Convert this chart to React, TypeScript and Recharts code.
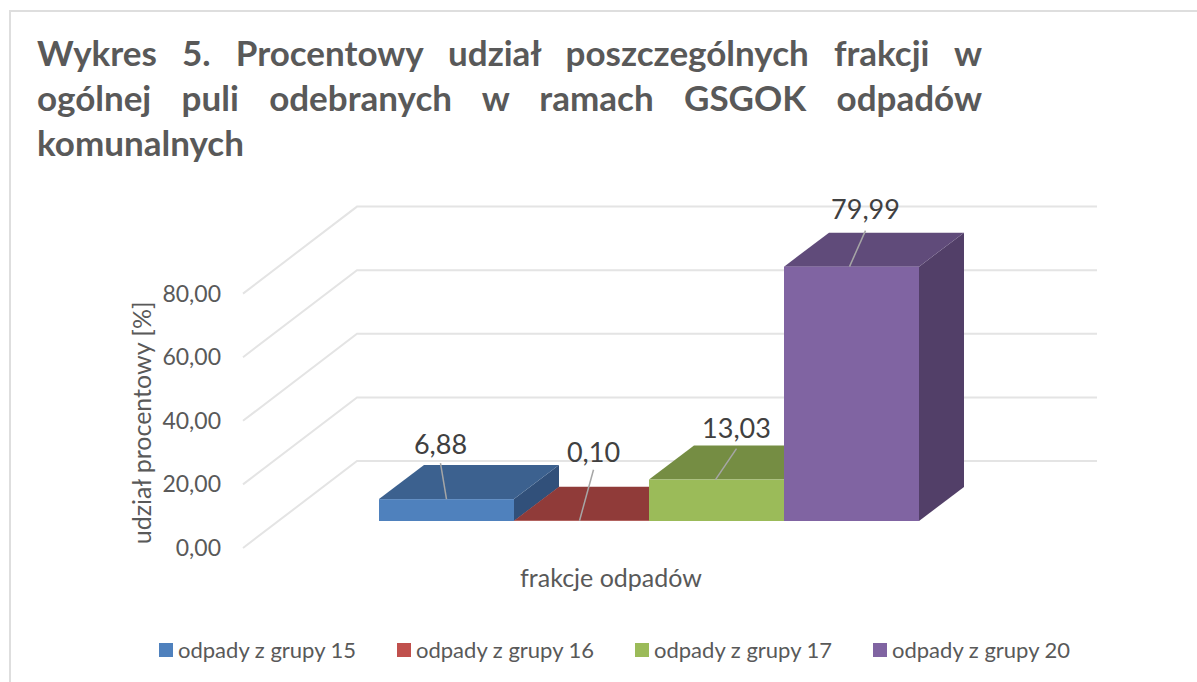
import { BarChart, Bar, XAxis, YAxis, CartesianGrid, Legend, LabelList } from 'recharts';

const categories = ['frakcje odpadów'];
const seriesNames = ['odpady z grupy 15', 'odpady z grupy 16', 'odpady z grupy 17', 'odpady z grupy 20'];
const seriesValues = [6.88, 0.1, 13.03, 79.99];
const yTicks = [0, 20, 40, 60, 80];

const chartData = categories.map((name) => {
  const row: Record<string, string | number> = { name };
  seriesNames.forEach((s, i) => {
    row[s] = seriesValues[i];
  });
  return row;
});

// front, top and side faces of each block
const faces = [
  { front: '#4F81BD', top: '#3C618F', side: '#31507A' },
  { front: '#C0504D', top: '#903B39', side: '#7A3230' },
  { front: '#9BBB59', top: '#758D43', side: '#637738' },
  { front: '#8064A2', top: '#604B7A', side: '#523F68' },
];

// leader line start, leader line end and text centre, relative to the bar's top middle
const leaders = [
  { x0: 0, x1: -6, y1: -36, tx: -6, ty: -56 },
  { x0: -2, x1: 12, y1: -51, tx: 12, ty: -69 },
  { x0: -1, x1: 20, y1: -31, tx: 20, ty: -52 },
  { x0: -2, x1: 14, y1: -36, tx: 14, ty: -58 },
];

const FONT = 'Lato, sans-serif';
const TEXT = '#595959';
const DEPTH_X = 45;
const DEPTH_Y = 34;

const fmt = (v: number) => v.toFixed(2).replace('.', ',');

const Block = (props: any) => {
  const { x, y, width, height, index } = props;
  const f = faces[index];
  const right = x + width;
  const bottom = y + height;
  return (
    <g>
      <polygon points={`${right},${y} ${right + DEPTH_X},${y - DEPTH_Y} ${right + DEPTH_X},${bottom - DEPTH_Y} ${right},${bottom}`} fill={f.side} />
      <polygon points={`${x},${y} ${x + DEPTH_X},${y - DEPTH_Y} ${right + DEPTH_X},${y - DEPTH_Y} ${right},${y}`} fill={f.top} />
      <rect x={x} y={y} width={width} height={height} fill={f.front} />
    </g>
  );
};

const makeBlock = (i: number) => (props: any) => <Block {...props} index={i} />;

const makeLabel = (i: number) => (props: any) => {
  const { x, y, width, value } = props;
  const l = leaders[i];
  const mid = x + width / 2;
  return (
    <g>
      <line x1={mid + l.x0} y1={y} x2={mid + l.x1} y2={y + l.y1} stroke="#A6A6A6" strokeWidth={1.5} />
      <text x={mid + l.tx} y={y + l.ty} textAnchor="middle" dominantBaseline="central" fontSize={27} fontFamily={FONT} fill="#404040">
        {fmt(Number(value))}
      </text>
    </g>
  );
};

// one grid line bent into the side wall and the back wall
const GridLine = (props: any) => {
  const { x1, x2, y1 } = props;
  return (
    <polyline
      key={props.key ?? y1}
      points={`${x1 - 136},${y1 + 27} ${x1 - 22},${y1 - 60} ${x2 + 180},${y1 - 60}`}
      fill="none"
      stroke="#E4E4E4"
      strokeWidth={2}
    />
  );
};

const YTick = (props: any) => {
  const { x, y, payload } = props;
  return (
    <text x={x - 158} y={y + 26} textAnchor="end" dominantBaseline="central" fontSize={23} fontFamily={FONT} fill={TEXT}>
      {fmt(payload.value)}
    </text>
  );
};

const LegendRow = (props: any) => (
  <div style={{ display: 'flex', fontFamily: FONT, fontSize: 22, color: TEXT, lineHeight: '24px' }}>
    {(props.payload ?? []).map((p: any) => (
      <div key={p.value} style={{ width: 238, display: 'flex', alignItems: 'center', whiteSpace: 'nowrap' }}>
        <span style={{ width: 14, height: 14, background: p.color, marginRight: 5, flex: 'none' }} />
        {p.value}
      </div>
    ))}
  </div>
);

export default function App() {
  return (
    <div style={{ position: 'absolute', left: 0, top: 0, width: 1197, height: 682, overflow: 'hidden', background: '#fff' }}>
      <div style={{ position: 'absolute', left: 9, top: 10, width: 1300, height: 800, borderTop: '2px solid #DEDEDE', borderLeft: '2px solid #DEDEDE' }} />
      <div
        style={{
          position: 'absolute',
          left: 37,
          top: 30,
          width: 945,
          fontFamily: FONT,
          fontWeight: 700,
          fontSize: 35,
          lineHeight: '45px',
          color: TEXT,
          textAlign: 'justify',
        }}
      >
        Wykres 5. Procentowy udział poszczególnych frakcji w ogólnej puli odebranych w ramach GSGOK odpadów komunalnych
      </div>
      <div style={{ position: 'absolute', left: 0, top: 0 }}>
        <BarChart
          width={1197}
          height={682}
          data={chartData}
          barCategoryGap={0}
          barGap={0}
          margin={{ top: 266.6, right: 280, bottom: 160, left: 378 }}
        >
          <CartesianGrid vertical={false} horizontal={(p: any) => <GridLine {...p} />} horizontalValues={yTicks} />
          <XAxis
            dataKey="name"
            height={1}
            tick={false}
            axisLine={false}
            tickLine={false}
            label={{ value: categories[0], position: 'bottom', offset: 47, dx: -37, fontSize: 25, fontFamily: FONT, fill: TEXT }}
          />
          <YAxis
            width={1}
            domain={[0, 80]}
            ticks={yTicks}
            tick={<YTick />}
            tickSize={0}
            tickMargin={0}
            axisLine={false}
            tickLine={false}
            label={{ value: 'udział procentowy [%]', angle: -90, position: 'center', dx: -236, dy: 29, fontSize: 25, fontFamily: FONT, fill: TEXT }}
          />
          <Legend
            verticalAlign="middle"
            content={<LegendRow />}
            wrapperStyle={{ left: 159, top: 638, width: 960, height: 24 }}
          />
          {seriesNames.map((s, i) => (
            <Bar key={s} dataKey={s} name={s} fill={faces[i].front} shape={makeBlock(i)} isAnimationActive={false}>
              <LabelList dataKey={s} content={makeLabel(i)} />
            </Bar>
          ))}
        </BarChart>
      </div>
    </div>
  );
}
